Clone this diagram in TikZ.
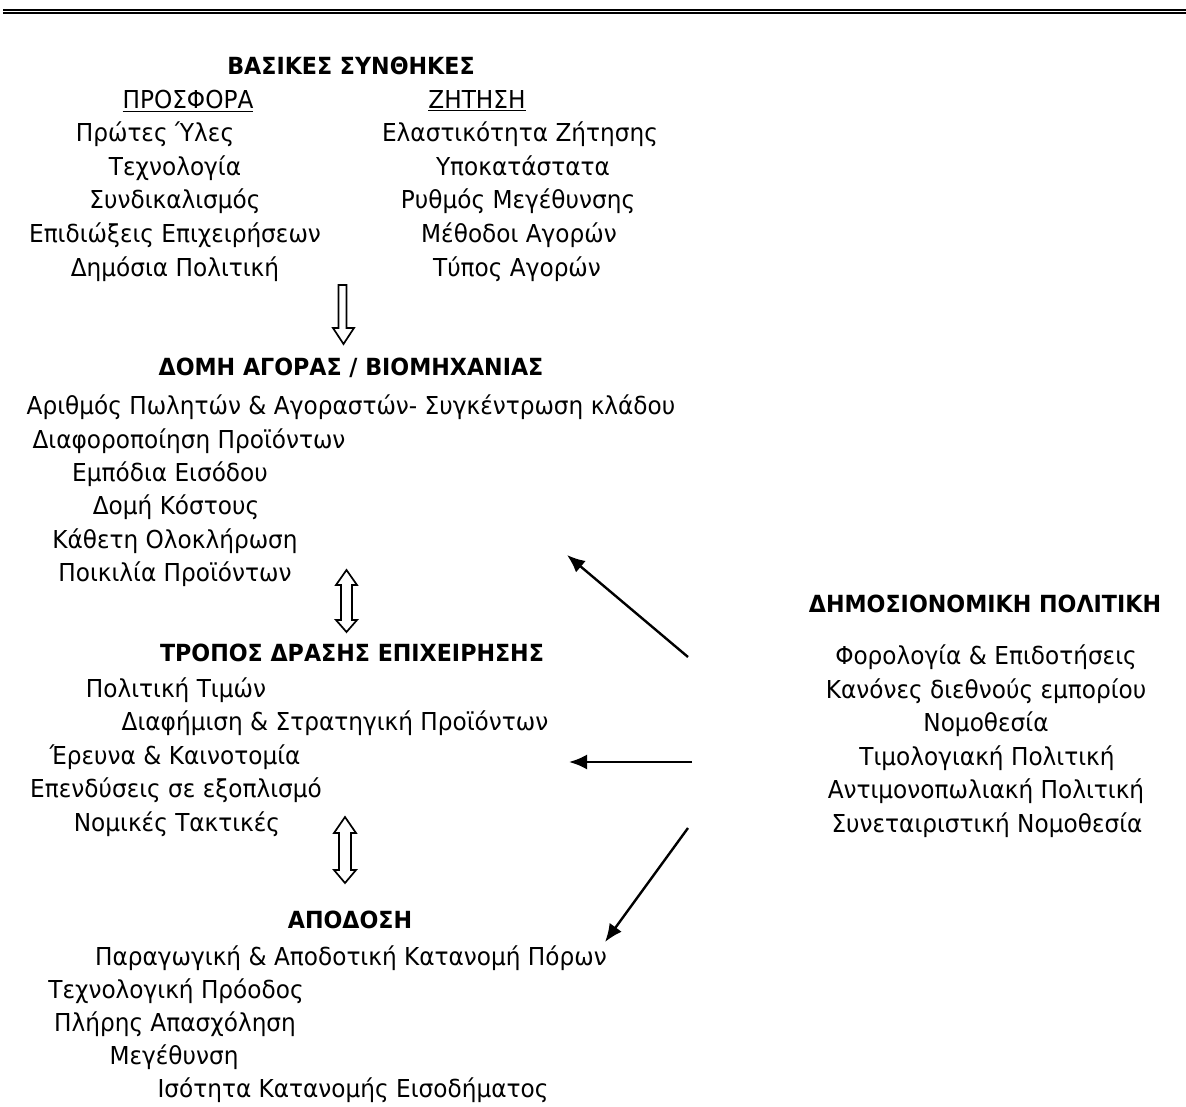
\documentclass[tikz,border=0pt]{standalone}
\usepackage{fontspec}
\setmainfont[FakeStretch=0.94]{DejaVu Sans}
\usetikzlibrary{arrows.meta}
\begin{document}
\begin{tikzpicture}[x=1pt,y=-1pt,
  txt/.style={inner sep=0pt, font=\fontsize{24.7}{29}\selectfont, text height=18pt, text depth=0pt, anchor=center},
  hd/.style={inner sep=0pt, font=\fontsize{23.6}{28}\selectfont\bfseries, text height=17pt, text depth=0pt, anchor=center},
  lnk/.style={line width=2.4pt, -{Latex[length=18pt,width=15pt]}},
  hollow/.style={draw=black, line width=1.7pt, fill=white, line join=miter}]
\useasboundingbox (0,0) rectangle (1186,1107);
\fill[white] (0,0) rectangle (1186,1107);
% double rule at the top
\draw[line width=2.3pt] (3,10.2) -- (1186,10.2);
\draw[line width=1.6pt] (3,13.2) -- (1186,13.2);

% basic conditions
\node[hd] (basic) at (351,66) {ΒΑΣΙΚΕΣ ΣΥΝΘΗΚΕΣ};
\node[txt] (supply) at (188,100) {\underline{ΠΡΟΣΦΟΡΑ}};
\node[txt] (demand) at (477,100) {\underline{ΖΗΤΗΣΗ}};
\node[txt] (s1) at (155,133) {Πρώτες Ύλες};
\node[txt] (s2) at (175,167) {Τεχνολογία};
\node[txt] (s3) at (175,200) {Συνδικαλισμός};
\node[txt] (s4) at (175,234) {Επιδιώξεις Επιχειρήσεων};
\node[txt] (s5) at (175,268) {Δημόσια Πολιτική};
\node[txt] (d1) at (520,133) {Ελαστικότητα Ζήτησης};
\node[txt] (d2) at (523,167) {Υποκατάστατα};
\node[txt] (d3) at (518,200) {Ρυθμός Μεγέθυνσης};
\node[txt] (d4) at (519,234) {Μέθοδοι Αγορών};
\node[txt] (d5) at (517,268) {Τύπος Αγορών};

% market structure
\node[hd] (struct) at (351,367) {ΔΟΜΗ ΑΓΟΡΑΣ / ΒΙΟΜΗΧΑΝΙΑΣ};
\node[txt] (m1) at (351,405) {Αριθμός Πωλητών \& Αγοραστών- Συγκέντρωση κλάδου};
\node[txt] (m2) at (189,439) {Διαφοροποίηση Προϊόντων};
\node[txt] (m3) at (170,472) {Εμπόδια Εισόδου};
\node[txt] (m4) at (176,505) {Δομή Κόστους};
\node[txt] (m5) at (175,539) {Κάθετη Ολοκλήρωση};
\node[txt] (m6) at (175,572) {Ποικιλία Προϊόντων};

% conduct
\node[hd] (conduct) at (352,653) {ΤΡΟΠΟΣ ΔΡΑΣΗΣ ΕΠΙΧΕΙΡΗΣΗΣ};
\node[txt] (c1) at (176,688) {Πολιτική Τιμών};
\node[txt] (c2) at (335,721) {Διαφήμιση \& Στρατηγική Προϊόντων};
\node[txt] (c3) at (175,755) {Έρευνα \& Καινοτομία};
\node[txt] (c4) at (176,788) {Επενδύσεις σε εξοπλισμό};
\node[txt] (c5) at (177,822) {Νομικές Τακτικές};

% performance
\node[hd] (perf) at (350,920) {ΑΠΟΔΟΣΗ};
\node[txt] (p1) at (351,956) {Παραγωγική \& Αποδοτική Κατανομή Πόρων};
\node[txt] (p2) at (176,989) {Τεχνολογική Πρόοδος};
\node[txt] (p3) at (175,1022) {Πλήρης Απασχόληση};
\node[txt] (p4) at (174,1055) {Μεγέθυνση};
\node[txt] (p5) at (353,1088) {Ισότητα Κατανομής Εισοδήματος};

% public policy
\node[hd] (policy) at (985,604) {ΔΗΜΟΣΙΟΝΟΜΙΚΗ ΠΟΛΙΤΙΚΗ};
\node[txt] (g1) at (986,655) {Φορολογία \& Επιδοτήσεις};
\node[txt] (g2) at (986,689) {Κανόνες διεθνούς εμπορίου};
\node[txt] (g3) at (986,722) {Νομοθεσία};
\node[txt] (g4) at (987,756) {Τιμολογιακή Πολιτική};
\node[txt] (g5) at (986,789) {Αντιμονοπωλιακή Πολιτική};
\node[txt] (g6) at (987,823) {Συνεταιριστική Νομοθεσία};

% hollow block arrows between the stages
\draw[hollow] (338.5,285) -- (346.5,285) -- (346.5,328) -- (354,328) -- (343.5,344)
  -- (333,328) -- (338.5,328) -- cycle;
\draw[hollow] (346.5,570) -- (357,585) -- (352,585) -- (352,620) -- (357,620) -- (346.5,632)
  -- (336,620) -- (341,620) -- (341,585) -- (336,585) -- cycle;
\draw[hollow] (345,817) -- (356,833) -- (351,833) -- (351,870) -- (356,870) -- (345,883)
  -- (334,870) -- (339,870) -- (339,833) -- (334,833) -- cycle;

% policy influence arrows
\coordinate (a1s) at (688,657);
\coordinate (a1e) at (567,555);
\coordinate (a2s) at (692,762);
\coordinate (a2e) at (569,762);
\coordinate (a3s) at (688,828);
\coordinate (a3e) at (605,942);
\draw[lnk] (a1s) -- (a1e);
\draw[lnk] (a2s) -- (a2e);
\draw[lnk] (a3s) -- (a3e);
\end{tikzpicture}
\end{document}
